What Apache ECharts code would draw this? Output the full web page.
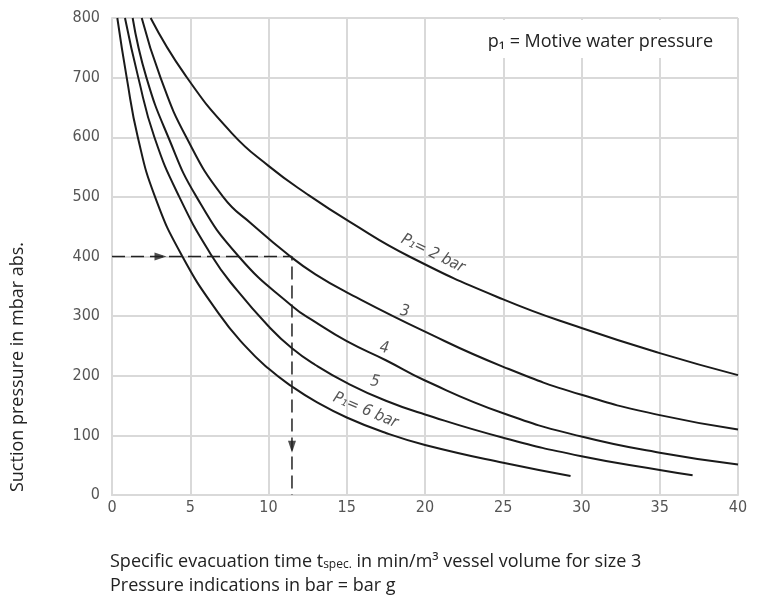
<!DOCTYPE html>
<html>
<head>
<meta charset="utf-8">
<script src="https://cdn.jsdelivr.net/npm/echarts@6/dist/echarts.min.js"></script>
<style>
html,body{margin:0;padding:0;background:#fff;}
#main{width:760px;height:610px;}
</style>
</head>
<body>
<div id="main"></div>
<script>
// curve values (x = min/m3, y = mbar abs.)
var p2X = [2.47, 4.66, 7.65, 10, 12.5, 15.2, 19, 25, 30, 35, 40];
var p2Y = [800, 705, 607, 552, 504, 458, 400, 328, 280, 238, 201];
var p3X = [1.9, 3.1, 4.75, 7.1, 9, 11.4, 13, 15, 20, 25, 30, 35, 40];
var p3Y = [800, 700, 600, 500, 453, 400, 370, 340, 274, 215, 168, 134, 110];
var p4X = [1.32, 2.2, 3.6, 5.4, 8.1, 11.5, 13, 15, 17.5, 20, 25, 30, 35, 40];
var p4Y = [800, 700, 600, 500, 400, 317, 290, 258, 226, 192, 137, 98, 71, 51];
var p5X = [0.83, 1.68, 2.71, 4.3, 6.4, 8, 10, 11.5, 13, 15, 17.5, 20, 25, 30, 35, 37.1];
var p5Y = [800, 700, 600, 500, 400, 343, 283, 246, 218, 188, 158, 135, 96, 65, 42, 33];
var p6X = [0.34, 0.94, 1.65, 2.75, 4.5, 6.8, 8.5, 10, 11.5, 13, 15, 17.5, 20, 25, 29.3];
var p6Y = [800, 700, 600, 500, 400, 305, 250, 212, 182, 157, 130, 104, 84, 54, 32];

// example reading: 400 mbar -> 11.5 min/m3
var guideX = [0, 11.5, 11.5];
var guideY = [400, 400, 0];
var arrowX = [3.1, 11.5];
var arrowY = [400, 81];

var curveNames = ['P₁= 2 bar', '3', '4', '5', 'P₁= 6 bar'];

function pairs(xs, ys){
    var out = [];
    for (var i = 0; i < xs.length; i++) out.push([xs[i], ys[i]]);
    return out;
}

var gridColor = '#d9d9d9';
var curveStyle = {color: '#1a1a1a', width: 2};
var allX = [p2X, p3X, p4X, p5X, p6X];
var allY = [p2Y, p3Y, p4Y, p5Y, p6Y];

var series = [];
for (var i = 0; i < allX.length; i++) {
    series.push({
        name: curveNames[i],
        type: 'line',
        data: pairs(allX[i], allY[i]),
        smooth: 0.5,
        showSymbol: false,
        silent: true,
        lineStyle: curveStyle
    });
}
series.push({
    type: 'line',
    data: pairs(guideX, guideY),
    showSymbol: false,
    silent: true,
    lineStyle: {color: '#222', width: 1.5, type: [13, 6]}
});
series.push({
    type: 'scatter',
    data: [[arrowX[0], arrowY[0]]],
    symbol: 'triangle',
    symbolSize: [8, 12],
    symbolRotate: -90,
    itemStyle: {color: '#222'},
    silent: true
});
series.push({
    type: 'scatter',
    data: [[arrowX[1], arrowY[1]]],
    symbol: 'triangle',
    symbolSize: [8, 12],
    symbolRotate: 180,
    itemStyle: {color: '#222'},
    silent: true
});

var tickFont = {color: '#555', fontSize: 16, fontFamily: 'DejaVu Sans Condensed, DejaVu Sans'};

var option = {
    animation: false,
    backgroundColor: '#fff',
    grid: {left: 112, right: 22, top: 18, bottom: 115},
    xAxis: {
        type: 'value', min: 0, max: 40, interval: 5,
        axisLine: {lineStyle: {color: gridColor, width: 2}},
        axisTick: {show: false},
        axisLabel: Object.assign({margin: 5}, tickFont),
        splitLine: {show: true, lineStyle: {color: gridColor, width: 2}}
    },
    yAxis: {
        type: 'value', min: 0, max: 800, interval: 100,
        axisLine: {show: true, lineStyle: {color: gridColor, width: 2}},
        axisTick: {show: false},
        axisLabel: Object.assign({margin: 12}, tickFont),
        splitLine: {show: true, lineStyle: {color: gridColor, width: 2}}
    },
    series: series
};

var chart = echarts.init(document.getElementById('main'), null, {renderer: 'canvas'});
chart.setOption(option);

// labels along the curves, placed through the axes
var labelSpots = [
    {x: 20.5, y: 405, rot: -26},
    {x: 18.7, y: 308, rot: -10},
    {x: 17.4, y: 246, rot: -10},
    {x: 16.8, y: 190, rot: -10},
    {x: 16.2, y: 142, rot: -23}
];
var graphics = [];
for (var k = 0; k < labelSpots.length; k++) {
    var pt = chart.convertToPixel({gridIndex: 0}, [labelSpots[k].x, labelSpots[k].y]);
    graphics.push({
        type: 'text',
        x: pt[0], y: pt[1],
        rotation: labelSpots[k].rot * Math.PI / 180,
        style: {
            text: curveNames[k],
            fill: '#555',
            font: 'italic 16px "DejaVu Sans Condensed", "DejaVu Sans"',
            align: 'center',
            verticalAlign: 'middle'
        },
        z: 10
    });
}
// white legend box with caption
graphics.push({
    type: 'rect',
    shape: {x: 445, y: 20, width: 292, height: 38},
    style: {fill: '#fff'},
    z: 5
});
graphics.push({
    type: 'text',
    x: 713, y: 42,
    style: {
        text: 'p₁ = Motive water pressure',
        fill: '#222',
        font: '18px "Open Sans"',
        align: 'right',
        verticalAlign: 'middle'
    },
    z: 10
});
graphics.push({
    type: 'text',
    x: 18, y: 367,
    rotation: Math.PI / 2,
    style: {
        text: 'Suction pressure in mbar abs.',
        fill: '#222',
        font: '18px "Open Sans"',
        align: 'center',
        verticalAlign: 'middle'
    }
});
graphics.push({
    type: 'text',
    x: 110, y: 562,
    style: {
        text: 'Specific evacuation time t{s|spec.} in min/m³ vessel volume for size 3',
        rich: {s: {fontSize: 12, fontFamily: 'Open Sans', fill: '#222', verticalAlign: 'bottom'}},
        fill: '#222',
        font: '18px "Open Sans"',
        align: 'left',
        verticalAlign: 'middle'
    }
});
graphics.push({
    type: 'text',
    x: 110, y: 586,
    style: {
        text: 'Pressure indications in bar = bar g',
        fill: '#222',
        font: '18px "Open Sans"',
        align: 'left',
        verticalAlign: 'middle'
    }
});
chart.setOption({graphic: graphics});
</script>
</body>
</html>
